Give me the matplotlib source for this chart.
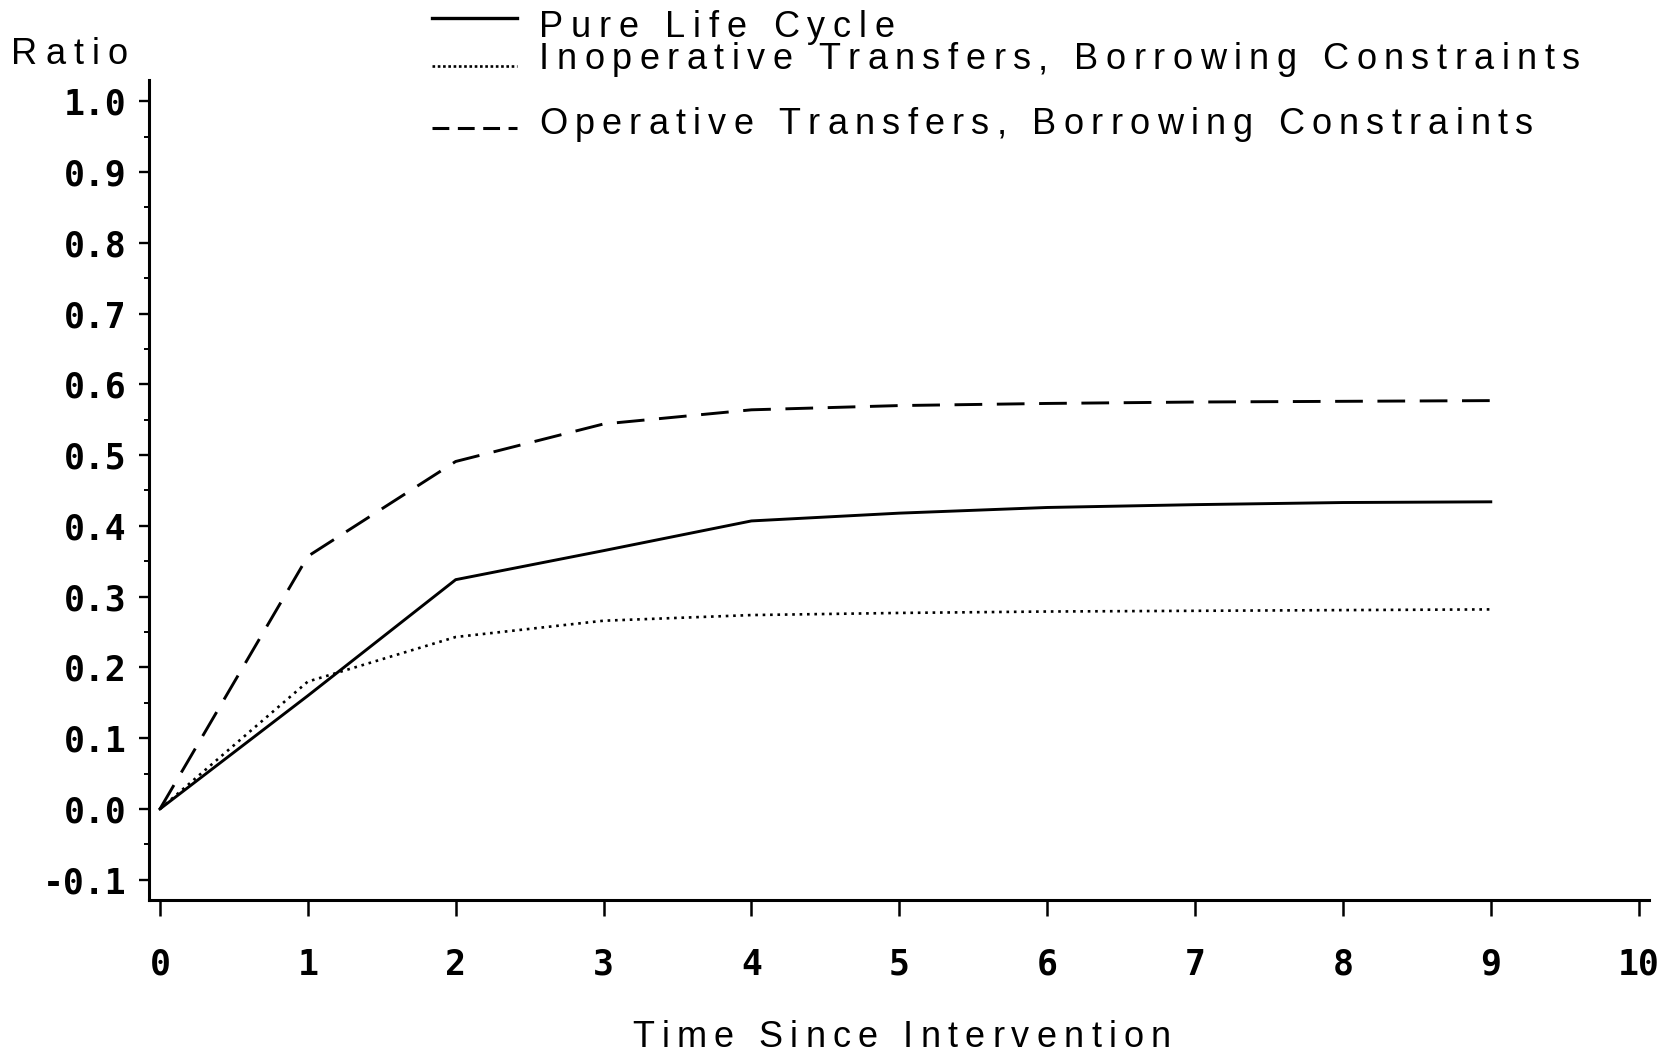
import matplotlib
matplotlib.use("Agg")
import matplotlib.pyplot as plt
from matplotlib import font_manager, lines
from matplotlib.font_manager import FontProperties
import numpy as np

# valores
t = [0, 1, 2, 3, 4, 5, 6, 7, 8, 9]
pure_life_cycle = [0.0, 0.16, 0.324, 0.365, 0.407, 0.418, 0.426, 0.430, 0.433, 0.434]
inoperative = [0.0, 0.18, 0.243, 0.266, 0.274, 0.277, 0.279, 0.280, 0.281, 0.282]
operative = [0.0, 0.357, 0.491, 0.544, 0.564, 0.570, 0.573, 0.575, 0.576, 0.577]

labels = ['Pure Life Cycle',
          'Inoperative Transfers, Borrowing Constraints',
          'Operative Transfers, Borrowing Constraints']
yticks = [-0.1, 0.0, 0.1, 0.2, 0.3, 0.4, 0.5, 0.6, 0.7, 0.8, 0.9, 1.0]
xticks = [0, 1, 2, 3, 4, 5, 6, 7, 8, 9, 10]

names = {f.name for f in font_manager.fontManager.ttflist}
txt_font = 'Liberation Sans Narrow' if 'Liberation Sans Narrow' in names else 'Liberation Sans'
num_font = 'DejaVu Sans Mono'

W, H = 1674, 1053


def fx(px):
    return px / W


def fy(py):
    return 1 - py / H


fig = plt.figure(figsize=(W / 100, H / 100), dpi=100)
renderer = fig.canvas.get_renderer()


def tracked(x0, base, s, width, size=26, word=0.3):
    # escreve letra a letra, com espacamento largo como no original
    prop = FontProperties(family=txt_font, size=size)
    ws = []
    for c in s:
        if c == ' ':
            ws.append(None)
            continue
        tt = fig.text(0, 0, c, fontproperties=prop)
        ws.append(tt.get_window_extent(renderer).width)
        tt.remove()
    sp = word * size * 100 / 72
    glyphs = sum(w for w in ws if w is not None) + sp * ws.count(None)
    track = (width - glyphs) / (len(s) - 1)
    x = x0
    for c, w in zip(s, ws):
        if w is None:
            x += sp + track
            continue
        fig.text(fx(x), fy(base), c, fontproperties=prop, ha='left', va='baseline')
        x += w + track


ax = fig.add_axes([fx(149), fy(900), fx(1649) - fx(149), fy(80) - fy(900)])

ax.plot(t, pure_life_cycle, color='black', lw=2.1, ls='-')
ax.plot(t, inoperative, color='black', lw=1.9, ls=(0, (1, 1.8)))
ax.plot(t, operative, color='black', lw=2.1, ls=(0, (9.5, 5)))

ax.set_xlim(-0.074, 10.07)
ax.set_ylim(-0.1286, 1.030)
for s in ['top', 'right']:
    ax.spines[s].set_visible(False)
for s in ['left', 'bottom']:
    ax.spines[s].set_linewidth(2.2)

ax.set_yticks(yticks)
ax.set_yticklabels([f'{v:.1f}' for v in yticks])
ax.set_yticks(np.array(yticks[:-1]) + 0.05, minor=True)
ax.set_xticks(xticks)
ax.set_xticklabels([str(v) for v in xticks])
ax.tick_params(axis='y', which='major', direction='out', length=7, width=1.7, pad=9)
ax.tick_params(axis='y', which='minor', direction='out', length=3.5, width=1.4)
ax.tick_params(axis='x', which='major', direction='out', length=11.5, width=1.8, pad=23)
for lab in ax.get_xticklabels() + ax.get_yticklabels():
    lab.set_family(num_font)
    lab.set_fontweight('bold')
    lab.set_fontsize(25)

tracked(11, 64, 'Ratio', 117)
tracked(632, 1047, 'Time Since Intervention', 539)

# legenda montada a mao (espacamento irregular no original)
leg_y = [18, 66, 128]
leg_base = [37, 69, 134]
leg_w = [355, 1041, 994]
styles = [dict(lw=2.4, ls='-'), dict(lw=1.9, ls=(0, (1, 1.0))), dict(lw=2.2, ls=(0, (5.5, 2.8)))]
for yl, yb, wd, st, lab in zip(leg_y, leg_base, leg_w, styles, labels):
    fig.add_artist(lines.Line2D([fx(432), fx(517)], [fy(yl), fy(yl)],
                                transform=fig.transFigure, color='black', **st))
    tracked(539, yb, lab, wd)

fig.savefig('out.png', dpi=100, facecolor='white')
